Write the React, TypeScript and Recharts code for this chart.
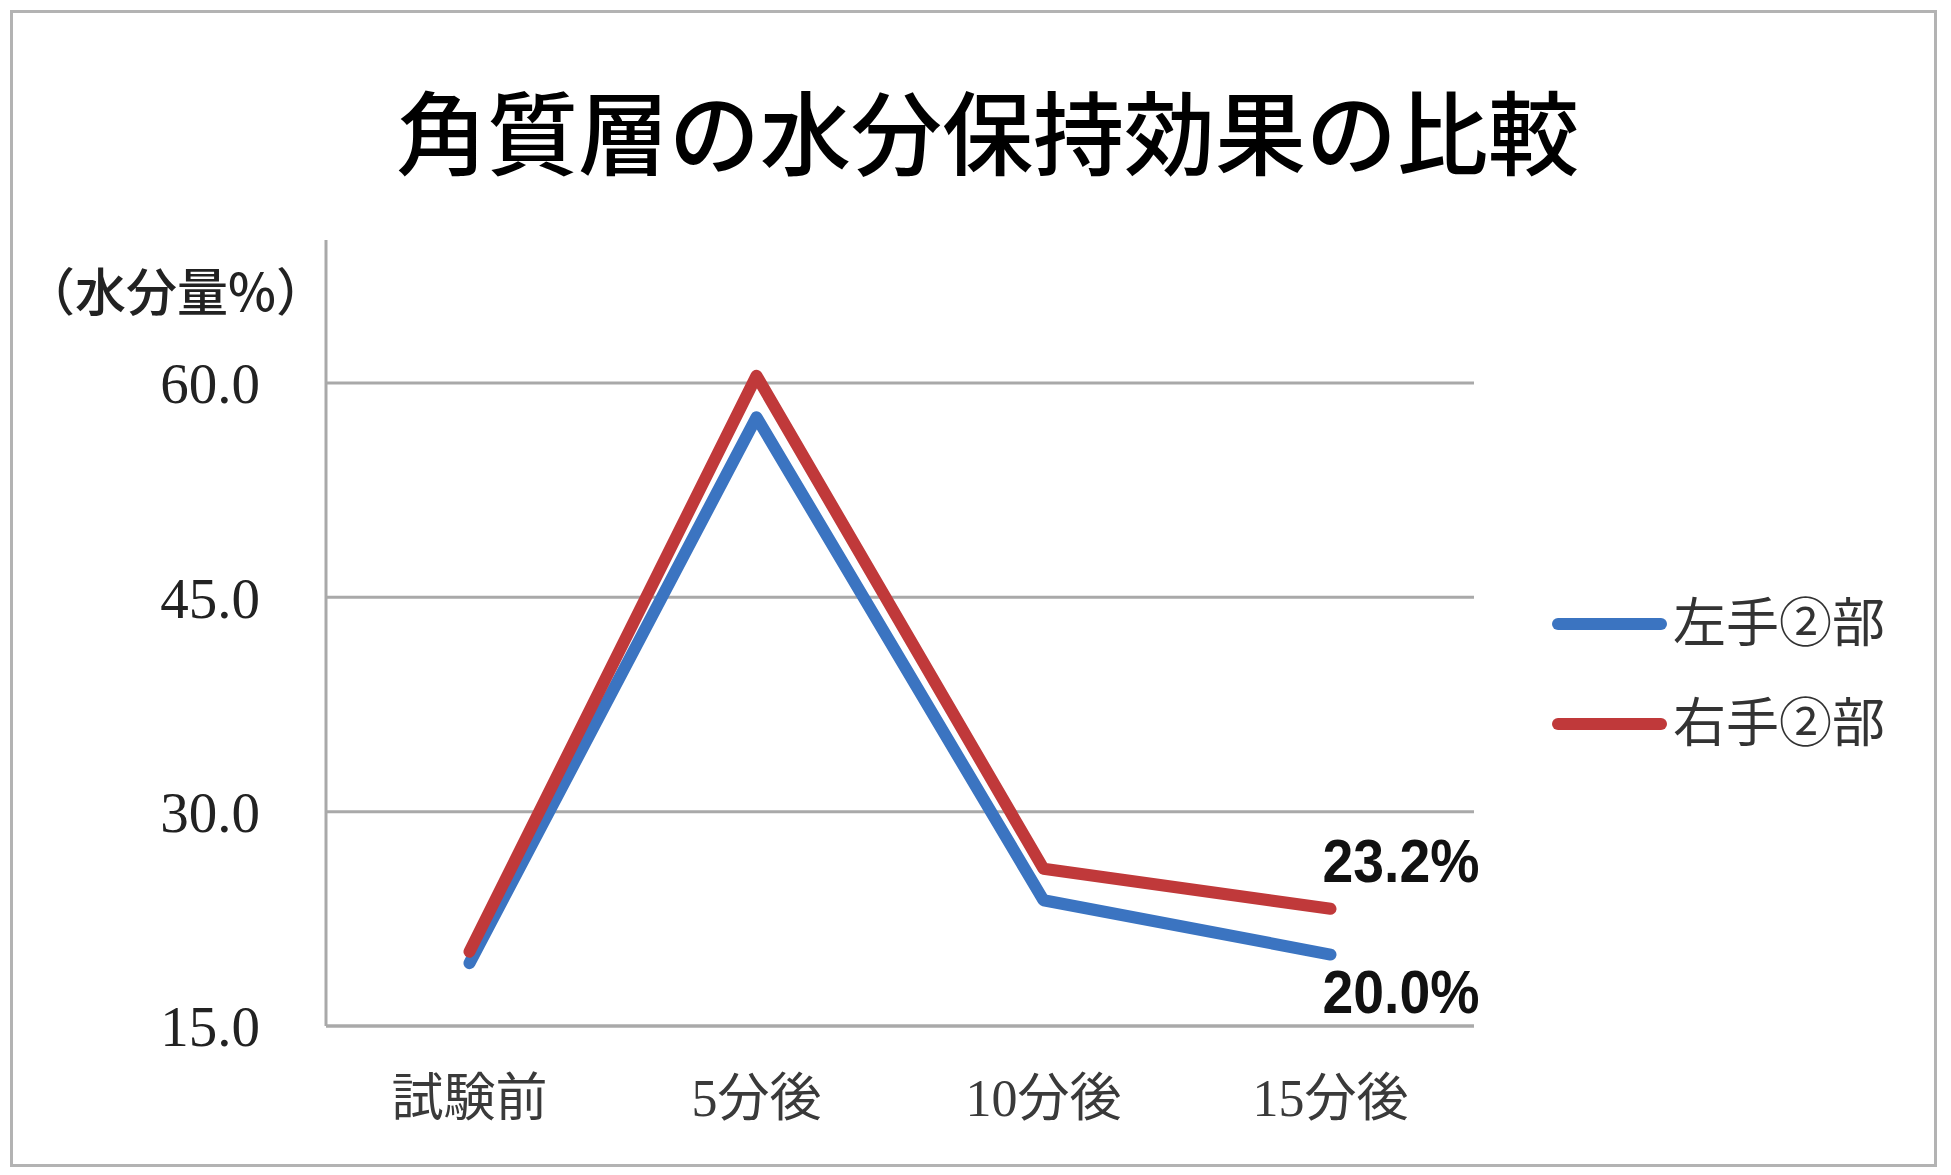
import React from 'react';
import {
  LineChart, Line, XAxis, YAxis, CartesianGrid, Legend, LabelList,
} from 'recharts';

const categories = ['試験前', '5分後', '10分後', '15分後'];
const leftHand = [19.4, 57.6, 23.8, 20.0];
const rightHand = [20.2, 60.5, 26.0, 23.2];
const yTicks = [15, 30, 45, 60];

const seriesNames = { left: '左手②部', right: '右手②部' };
const BLUE = '#3b74c1';
const RED = '#c0393a';
const GRID = '#a9a9a9';
const SERIF = "'Liberation Serif', 'Noto Sans CJK JP', serif";
const CJK = "'Noto Sans CJK JP', sans-serif";

const data = categories.map((cat, i) => ({
  cat,
  left: leftHand[i],
  right: rightHand[i],
}));

// only the last point gets a value label
const endLabel = (offsetY: number) => (props: any) => {
  const { x, y, value, index } = props;
  if (index !== categories.length - 1) return null;
  const cy = Number(y) + offsetY;
  return (
    <text
      x={Number(x) - 8}
      y={cy + 22}
      textAnchor="start"
      fontFamily="'Liberation Sans', Arial, sans-serif"
      fontWeight="bold"
      fontSize={62}
      fill="#111"
      textLength={157}
      lengthAdjust="spacingAndGlyphs"
    >
      {Number(value).toFixed(1)}%
    </text>
  );
};

const renderLegend = (props: any) => {
  const { payload } = props;
  return (
    <div>
      {(payload || []).map((entry: any) => (
        <div key={entry.value} style={{ display: 'flex', alignItems: 'center', height: 100 }}>
          <svg width={121} height={20}>
            <line x1={12} y1={10} x2={115} y2={10} stroke={entry.color} strokeWidth={12} strokeLinecap="round" />
          </svg>
          <span style={{ marginLeft: 6, fontFamily: SERIF, fontSize: 53, color: '#333', lineHeight: 1 }}>
            {entry.value}
          </span>
        </div>
      ))}
    </div>
  );
};

export default function App() {
  return (
    <div style={{ position: 'absolute', left: 0, top: 0, width: 1951, height: 1175, background: '#fff' }}>
      <div
        style={{
          position: 'absolute', left: 10, top: 10, width: 1927, height: 1157,
          border: '3px solid #b3b3b3', boxSizing: 'border-box',
        }}
      />
      <div
        style={{
          position: 'absolute', left: 396, top: 83, fontFamily: CJK, fontSize: 91,
          fontWeight: 500, lineHeight: '90px', color: '#000', whiteSpace: 'nowrap',
        }}
      >
        角質層の水分保持効果の比較
      </div>
      <div
        style={{
          position: 'absolute', left: 24, top: 264, fontFamily: CJK, fontSize: 51,
          fontWeight: 500, lineHeight: '51px', color: '#222', whiteSpace: 'nowrap',
        }}
      >
        （水分量%）
      </div>
      <div style={{ position: 'absolute', left: 0, top: 0 }}>
        <LineChart width={1951} height={1175} data={data} margin={{ top: 240, right: 477, bottom: 89, left: 0 }}>
          <CartesianGrid vertical={false} horizontalValues={yTicks} stroke={GRID} strokeWidth={3} />
          <XAxis
            dataKey="cat"
            scale="band"
            height={60}
            axisLine={{ stroke: GRID, strokeWidth: 3 }}
            tickLine={false}
            tickSize={0}
            tickMargin={53}
            interval={0}
            tick={{ fontFamily: SERIF, fontSize: 52, fill: '#3a3a3a' }}
          />
          <YAxis
            width={326}
            domain={[15, 70]}
            ticks={yTicks}
            tickFormatter={(v: number) => v.toFixed(1)}
            axisLine={{ stroke: GRID, strokeWidth: 3 }}
            tickLine={false}
            tickSize={0}
            tickMargin={66}
            tick={{ fontFamily: SERIF, fontSize: 57, fill: '#222' }}
          />
          <Legend
            layout="vertical"
            align="center"
            verticalAlign="middle"
            itemSorter="dataKey"
            content={renderLegend}
            wrapperStyle={{ position: 'absolute', left: 1546, top: 574, width: 380 }}
          />
          <Line
            type="linear"
            dataKey="left"
            name={seriesNames.left}
            stroke={BLUE}
            strokeWidth={12}
            strokeLinecap="round"
            strokeLinejoin="round"
            dot={false}
            activeDot={false}
            isAnimationActive={false}
          >
            <LabelList dataKey="left" content={endLabel(36)} />
          </Line>
          <Line
            type="linear"
            dataKey="right"
            name={seriesNames.right}
            stroke={RED}
            strokeWidth={12}
            strokeLinecap="round"
            strokeLinejoin="round"
            dot={false}
            activeDot={false}
            isAnimationActive={false}
          >
            <LabelList dataKey="right" content={endLabel(-49)} />
          </Line>
        </LineChart>
      </div>
    </div>
  );
}
